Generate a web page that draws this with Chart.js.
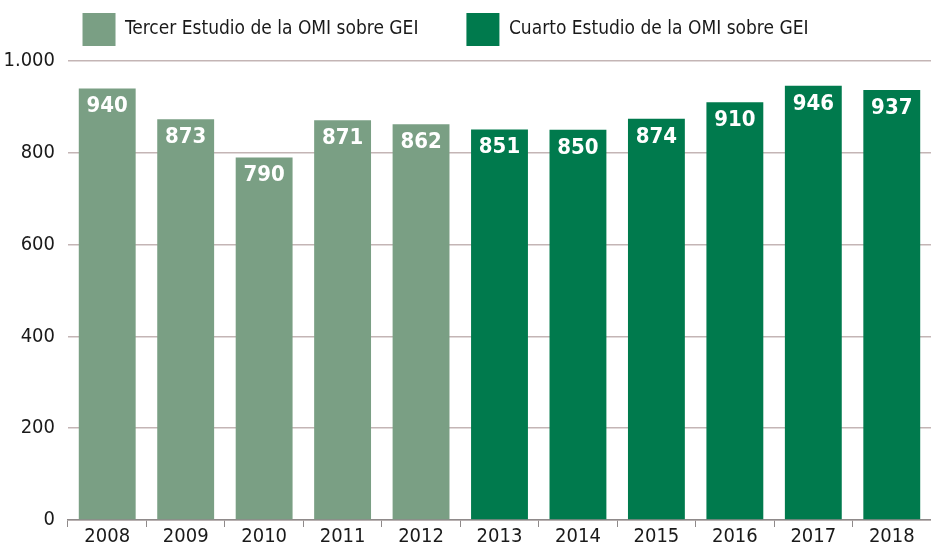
<!DOCTYPE html>
<html>
<head>
<meta charset="utf-8">
<script src="https://cdn.jsdelivr.net/npm/chart.js@4/dist/chart.umd.min.js"></script>
<style>
  html, body { margin: 0; padding: 0; background: #fff; overflow: hidden; }
  #wrap { width: 931px; height: 547px; }
</style>
</head>
<body>
<div id="wrap"><canvas id="myChart" width="931" height="547"></canvas></div>
<script>
var years = ['2008', '2009', '2010', '2011', '2012', '2013', '2014', '2015', '2016', '2017', '2018'];
var tercerValues = [940, 873, 790, 871, 862, null, null, null, null, null, null];
var cuartoValues = [null, null, null, null, null, 851, 850, 874, 910, 946, 937];
var yTicks = [0, 200, 400, 600, 800, 1000];

var fontFam = "'DejaVu Sans Condensed', 'Liberation Sans Narrow', sans-serif";

function fmtNum(v) {
    var s = String(v);
    if (s.length > 3) s = s.slice(0, -3) + '.' + s.slice(-3);
    return s;
}

// white numbers inside the top of each bar
var barLabels = {
    id: 'barLabels',
    afterDatasetsDraw: function(chart) {
        var ctx = chart.ctx;
        ctx.save();
        ctx.fillStyle = '#ffffff';
        ctx.font = "bold 22px " + fontFam;
        ctx.textAlign = 'center';
        ctx.textBaseline = 'middle';
        chart.data.datasets.forEach(function(ds, i) {
            var meta = chart.getDatasetMeta(i);
            meta.data.forEach(function(bar, j) {
                var v = ds.data[j];
                if (v === null) return;
                ctx.fillText(fmtNum(v), bar.x, bar.y + 18);
            });
        });
        ctx.restore();
    }
};

// legend: fixed height, items drawn a bit higher and left (no clip)
var legendPad = {
    id: 'legendPad',
    beforeInit: function(chart) {
        var lg = chart.legend;
        var fit = lg.fit;
        lg.fit = function() {
            fit.bind(lg)();
            this.height = 61;
        };
        lg.draw = function() {
            var c = this.ctx;
            c.save();
            c.translate(-20, -35);
            this._draw();
            c.restore();
        };
    }
};

var config = {
    type: 'bar',
    data: {
        labels: years,
        datasets: [{
            label: 'Tercer Estudio de la OMI sobre GEI',
            data: tercerValues,
            backgroundColor: '#7a9f84'
        }, {
            label: 'Cuarto Estudio de la OMI sobre GEI',
            data: cuartoValues,
            backgroundColor: '#007a4d'
        }]
    },
    options: {
        responsive: false,
        animation: false,
        layout: { padding: { left: 0, right: 0, top: 0, bottom: 0 } },
        datasets: { bar: { grouped: false, categoryPercentage: 1.0, barPercentage: 0.725 } },
        plugins: {
            legend: {
                position: 'top',
                labels: {
                    boxWidth: 33,
                    boxHeight: 33,
                    padding: 48,
                    color: '#1a1a1a',
                    font: { family: fontFam, size: 19 }
                }
            },
            tooltip: { enabled: false }
        },
        scales: {
            x: {
                grid: {
                    display: true,
                    drawOnChartArea: false,
                    drawTicks: true,
                    tickLength: 7,
                    color: '#8f8a8a',
                    offset: true
                },
                border: { display: true, color: '#8f8a8a', width: 1.5 },
                ticks: {
                    color: '#1a1a1a',
                    padding: 0,
                    font: { family: fontFam, size: 20, lineHeight: 1.0 }
                }
            },
            y: {
                min: 0,
                max: 1000,
                afterBuildTicks: function(axis) {
                    axis.ticks = yTicks.map(function(v) { return { value: v }; });
                },
                afterFit: function(axis) {
                    axis.width = 68;
                },
                grid: {
                    color: '#c4b5b5',
                    lineWidth: 1.5,
                    drawTicks: false
                },
                border: { display: false },
                ticks: {
                    color: '#1a1a1a',
                    padding: 13,
                    font: { family: fontFam, size: 20 },
                    callback: function(v) { return fmtNum(v); }
                }
            }
        }
    },
    plugins: [barLabels, legendPad]
};

var ctx = document.getElementById('myChart').getContext('2d');
var expenseChart = new Chart(ctx, config);
</script>
</body>
</html>
